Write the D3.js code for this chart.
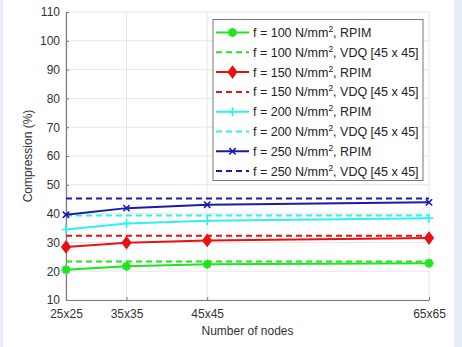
<!DOCTYPE html>
<html>
<head>
<meta charset="utf-8">
<script src="https://cdn.jsdelivr.net/npm/d3@7"></script>
<style>
  body { margin: 0; background: #fff; }
  svg { display: block; font-family: "Liberation Sans", Arial, sans-serif; }
</style>
</head>
<body>
<div id="chart"><svg width="462" height="347"></svg></div>
<script>
// Data
let nodeLabels = ["25x25", "35x35", "45x45", "65x65"];
let nodeCounts = [625, 1225, 2025, 4225];
let forces = [100, 150, 200, 250];
let rpim100 = [20.5, 21.7, 22.4, 22.8];
let rpim150 = [28.4, 29.9, 30.7, 31.5];
let rpim200 = [34.5, 36.6, 37.5, 38.4];
let rpim250 = [39.6, 41.9, 43.1, 43.9];
let vdqValues = [23.4, 32.3, 39.3, 45.2];
let yTicks = [10, 20, 30, 40, 50, 60, 70, 80, 90, 100, 110];

let svg = d3.select("div#chart svg");

let colors = {
  100: "#1ee61e",
  150: "#ec1010",
  200: "#2ff0f0",
  250: "#1a1ab0",
  grid: "#e6e6e6",
  axis: "#7a7a7a",
  text: "#333",
  side: "#e9edf7"
};

let series = [
  { f: 100, values: rpim100, marker: "star" },
  { f: 150, values: rpim150, marker: "diamond" },
  { f: 200, values: rpim200, marker: "plus" },
  { f: 250, values: rpim250, marker: "cross" }
];

// side strips
svg.append("rect").attr("x", 0).attr("y", 0).attr("width", 3).attr("height", 347).attr("fill", colors.side);
svg.append("rect").attr("x", 454).attr("y", 0).attr("width", 8).attr("height", 347).attr("fill", colors.side);

let x = d3.scaleLinear().domain([625, 4225]).range([66, 429]);
let y = d3.scaleLinear().domain([10, 110]).range([300, 12]);

// grid
let grid = svg.append("g").attr("class", "grid");
yTicks.forEach(t => {
  grid.append("line")
    .attr("x1", x(625)).attr("x2", x(4225))
    .attr("y1", y(t)).attr("y2", y(t))
    .attr("stroke", colors.grid).attr("stroke-width", 1);
});
nodeCounts.forEach(n => {
  grid.append("line")
    .attr("x1", x(n)).attr("x2", x(n))
    .attr("y1", y(10)).attr("y2", y(110))
    .attr("stroke", colors.grid).attr("stroke-width", 1);
});

// axes
let xAxis = svg.append("g")
  .attr("transform", "translate(0," + y(10) + ")")
  .call(d3.axisBottom(x).tickValues(nodeCounts).tickFormat((d, i) => nodeLabels[i]).tickSizeInner(-3).tickSizeOuter(0).tickPadding(9));
let yAxis = svg.append("g")
  .attr("transform", "translate(" + x(625) + ",0)")
  .call(d3.axisLeft(y).tickValues(yTicks).tickSizeInner(-3).tickSizeOuter(0).tickPadding(6));

[xAxis, yAxis].forEach(a => {
  a.select(".domain").attr("stroke", colors.axis).attr("stroke-width", 1.2);
  a.selectAll(".tick line").attr("stroke", colors.axis);
  a.selectAll(".tick text").attr("fill", colors.text).style("font-size", "12px")
    .style("font-family", "Liberation Sans, Arial, sans-serif");
});

// axis labels
svg.append("text")
  .attr("x", (x(625) + x(4225)) / 2)
  .attr("y", 335)
  .attr("text-anchor", "middle")
  .attr("fill", colors.text)
  .style("font-size", "12px")
  .text("Number of nodes");

svg.append("text")
  .attr("transform", "rotate(-90)")
  .attr("x", -156)
  .attr("y", 32)
  .attr("text-anchor", "middle")
  .attr("fill", colors.text)
  .style("font-size", "12px")
  .text("Compression (%)");

// markers
function markerPath(type, s) {
  if (type == "diamond") return "M0," + (-s) + "L" + s * 0.75 + ",0L0," + s + "L" + (-s * 0.75) + ",0Z";
  if (type == "plus") return "M" + (-s) + ",0H" + s + "M0," + (-s) + "V" + s;
  if (type == "cross") return "M" + (-s * 0.7) + "," + (-s * 0.7) + "L" + s * 0.7 + "," + s * 0.7 +
    "M" + (-s * 0.7) + "," + s * 0.7 + "L" + s * 0.7 + "," + (-s * 0.7);
  // asterisk
  let d = "M" + (-s) + ",0H" + s + "M0," + (-s) + "V" + s;
  let k = s * 0.7;
  d += "M" + (-k) + "," + (-k) + "L" + k + "," + k + "M" + (-k) + "," + k + "L" + k + "," + (-k);
  return d;
}

function drawMarker(g, type, color, cx, cy) {
  let s = type == "diamond" ? 5.5 : 4.5;
  g.append("path")
    .attr("transform", "translate(" + cx + "," + cy + ")")
    .attr("d", markerPath(type, s))
    .attr("fill", type == "diamond" ? color : "none")
    .attr("stroke", color)
    .attr("stroke-width", type == "star" ? 2.6 : 1.6);
}

let line = d3.line()
  .x((d, i) => x(nodeCounts[i]))
  .y(d => y(d));

let plot = svg.append("g").attr("class", "plot");

series.forEach((s, k) => {
  // VDQ reference (dashed)
  plot.append("line")
    .attr("x1", x(625)).attr("x2", x(4225))
    .attr("y1", y(vdqValues[k])).attr("y2", y(vdqValues[k]))
    .attr("stroke", colors[s.f])
    .attr("stroke-width", 2)
    .attr("stroke-dasharray", "6,4");
  // RPIM line
  plot.append("path")
    .attr("d", line(s.values))
    .attr("fill", "none")
    .attr("stroke", colors[s.f])
    .attr("stroke-width", 2);
  s.values.forEach((v, i) => drawMarker(plot, s.marker, colors[s.f], x(nodeCounts[i]), y(v)));
});

// legend
let legend = svg.append("g").attr("class", "legend");
legend.append("rect")
  .attr("x", 213).attr("y", 19.5)
  .attr("width", 210).attr("height", 161)
  .attr("fill", "white")
  .attr("stroke", "#555")
  .attr("stroke-width", 0.8);

series.forEach((s, k) => {
  ["RPIM", "VDQ [45 x 45]"].forEach((kind, j) => {
    let row = k * 2 + j;
    let ly = 32.5 + row * 19.8;
    legend.append("line")
      .attr("x1", 216).attr("x2", 249)
      .attr("y1", ly).attr("y2", ly)
      .attr("stroke", colors[s.f])
      .attr("stroke-width", 2)
      .attr("stroke-dasharray", j == 1 ? "6,4" : null);
    if (j == 0) drawMarker(legend, s.marker, colors[s.f], 232.5, ly);
    let t = legend.append("text")
      .attr("x", 253).attr("y", ly + 4.5)
      .attr("fill", "#222")
      .style("font-size", "12.5px");
    t.append("tspan").text("f = " + s.f + " N/mm");
    t.append("tspan").attr("dy", -5).style("font-size", "8.5px").text("2");
    t.append("tspan").attr("dy", 5).text(", " + kind);
  });
});
</script>
</body>
</html>
